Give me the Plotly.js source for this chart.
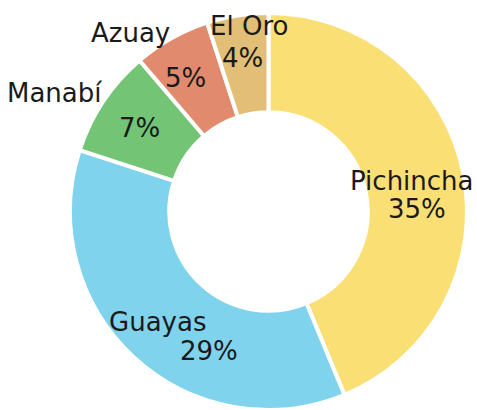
<!DOCTYPE html>
<html>
<head>
<meta charset="utf-8">
<script src="https://cdn.plot.ly/plotly-3.0.1.min.js"></script>
<style>html,body{margin:0;padding:0;background:#fff;overflow:hidden;}#chart{width:477px;height:410px;}</style>
</head>
<body>
<div id="chart"></div>
<script>
// ---- data ----
const labels = ["Pichincha", "Guayas", "Manabí", "Azuay", "El Oro"];
const values = [35, 29, 7, 5, 4];
const colors = ["#FADF75", "#7FD3EC", "#73C475", "#E28A6E", "#E2BE76"];

// ---- style / layout (label placement, in pixels) ----
const W = 477, H = 410;
const domain = {x: [70 / W, 467 / W], y: [0, 397 / H]};
// where the slice name goes: radius from centre, anchor, pixel nudge
const nameStyle = [
  {r: 150, xanchor: "center", dx: -4, dy: -1},
  {r: 150, xanchor: "center", dx: -9, dy: 0},
  {r: 204, xanchor: "right", dx: 5, dy: -5},
  {r: 204, xanchor: "right", dx: 3, dy: -1},
  {r: 204, xanchor: "center", dx: 12, dy: 16}
];
// where the percent goes: radius from centre (or relative to name), pixel nudge
const pctStyle = [
  {relToName: true, dx: 5, dy: 28},
  {relToName: true, dx: 51, dy: 29},
  {r: 155, dx: 0, dy: 3},
  {r: 155, dx: -7, dy: 2},
  {r: 155, dx: -2, dy: 0}
];
const font = {family: "DejaVu Sans", size: 26, color: "#1a1a1a"};

const pie = {
  type: "pie", labels: labels, values: values, hole: 0.5,
  sort: false, direction: "clockwise", rotation: 0,
  marker: {colors: colors, line: {color: "#ffffff", width: 4}},
  textinfo: "none",
  domain: domain, showlegend: false, hoverinfo: "label+value"
};

// pie geometry in pixels (same rule Plotly uses: radius = half the smaller domain side)
const dW = (domain.x[1] - domain.x[0]) * W, dH = (domain.y[1] - domain.y[0]) * H;
const R = Math.min(dW, dH) / 2;
const cx = (domain.x[0] + domain.x[1]) / 2 * W;
const cy = (1 - (domain.y[0] + domain.y[1]) / 2) * H;
const total = values.reduce((a, b) => a + b, 0);

const annotations = [];
let cum = 0;
values.forEach((v, i) => {
  const mid = (cum + v / 2) / total * 2 * Math.PI; // clockwise from 12 o'clock
  cum += v;
  const pt = r => [cx + r * Math.sin(mid), cy - r * Math.cos(mid)];
  const ns = nameStyle[i];
  let [nx, ny] = pt(ns.r);
  nx += ns.dx; ny += ns.dy;
  annotations.push({
    x: nx / W, y: 1 - ny / H, xref: "paper", yref: "paper",
    xanchor: ns.xanchor, yanchor: "middle", showarrow: false,
    text: labels[i], font: font
  });
  const ps = pctStyle[i];
  let px, py;
  if (ps.relToName) { px = nx + ps.dx; py = ny + ps.dy; }
  else { [px, py] = pt(ps.r); px += ps.dx; py += ps.dy; }
  annotations.push({
    x: px / W, y: 1 - py / H, xref: "paper", yref: "paper",
    xanchor: "center", yanchor: "middle", showarrow: false,
    text: v + "%", font: font
  });
});

Plotly.newPlot("chart", [pie], {
  width: W, height: H,
  margin: {l: 0, r: 0, t: 0, b: 0},
  paper_bgcolor: "#ffffff",
  showlegend: false,
  annotations: annotations
}, {displayModeBar: false, staticPlot: true});
</script>
</body>
</html>
